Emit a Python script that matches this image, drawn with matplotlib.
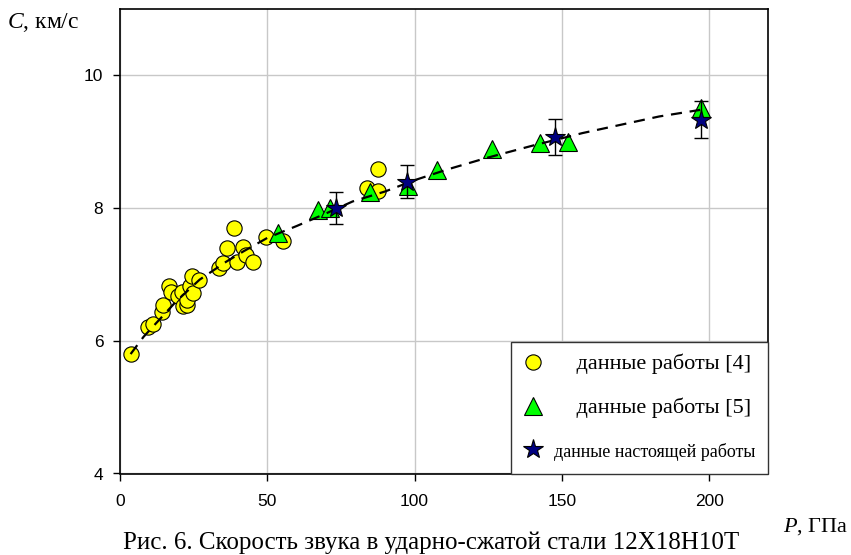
import matplotlib
matplotlib.use("Agg")
import matplotlib.pyplot as plt

plt.rcParams["mathtext.fontset"] = "custom"
plt.rcParams["mathtext.it"] = "Liberation Serif:italic"
plt.rcParams["mathtext.rm"] = "Liberation Serif"

# ---- data ----
p4 = [3.6, 9.6, 11.1, 14.1, 14.7, 16.7, 17.2, 19.6, 20.9, 21.3, 22.6, 22.8, 23.8,
      24.3, 24.9, 26.9, 33.6, 35.1, 36.4, 38.8, 39.6, 41.6, 42.9, 45.2, 49.7, 55.2,
      83.9, 87.6, 87.6]
c4 = [5.80, 6.21, 6.25, 6.44, 6.54, 6.82, 6.74, 6.67, 6.74, 6.52, 6.54, 6.62, 6.82,
      6.97, 6.72, 6.92, 7.10, 7.17, 7.40, 7.70, 7.19, 7.42, 7.30, 7.19, 7.57, 7.50,
      8.30, 8.25, 8.59]

p5 = [53.7, 67.3, 71.3, 84.8, 97.8, 107.5, 126.3, 142.5, 152.1, 197.4]
c5 = [7.62, 7.97, 8.00, 8.24, 8.33, 8.58, 8.89, 8.98, 9.00, 9.51]

p_this = [73.5, 97.3, 147.6, 197.4]
c_this = [8.00, 8.40, 9.07, 9.33]
c_err = [0.24, 0.25, 0.27, 0.28]

fit_p = [3.6, 8, 19, 27, 36, 42, 50, 60, 70, 79, 90, 100, 111, 124, 140, 157, 183, 197]
fit_c = [5.80, 6.06, 6.59, 6.92, 7.19, 7.35, 7.55, 7.73, 7.92, 8.10, 8.25, 8.42,
         8.58, 8.75, 8.94, 9.13, 9.38, 9.48]

labels = ["    данные работы [4]", "    данные работы [5]", "данные настоящей работы"]
xticks = [0, 50, 100, 150, 200]
yticks = [4, 6, 8, 10]

SERIF = ["Liberation Serif", "DejaVu Serif"]
SANS = ["Liberation Sans", "DejaVu Sans"]

fig = plt.figure(figsize=(8.51, 5.55), dpi=100)
ax = fig.add_axes([120 / 851, 1 - 473.5 / 555, (768 - 120) / 851, (473.5 - 9) / 555])

ax.set_xlim(0, 220)
ax.set_ylim(4, 11)
ax.set_xticks(xticks)
ax.set_yticks(yticks)
ax.grid(True, color="#c8c8c8", lw=1.0, zorder=0)
ax.set_axisbelow(True)

for s in ax.spines.values():
    s.set_linewidth(1.2)
    s.set_color("black")

ax.tick_params(axis="both", direction="out", length=5, width=1.0,
               top=False, right=False, labelsize=12.5)
ax.tick_params(axis="y", pad=7)
ax.tick_params(axis="x", pad=10)
for lab in ax.get_xticklabels() + ax.get_yticklabels():
    lab.set_fontfamily(SANS)

h1, = ax.plot(p4, c4, "o", ms=11, mfc="#ffff00", mec="black", mew=0.8,
              ls="none", zorder=3, label=labels[0])
h2, = ax.plot(p5, c5, "^", ms=13, mfc="#00ff00", mec="black", mew=0.8,
              ls="none", zorder=4, label=labels[1])
ax.plot(fit_p, fit_c, color="black", lw=1.6, ls=(0, (5, 3.5)), zorder=5)
ax.errorbar(p_this, c_this, yerr=c_err, fmt="none", ecolor="black",
            elinewidth=1.0, capsize=5, capthick=1.0, zorder=6)
h3, = ax.plot(p_this, c_this, "*", ms=15, mfc="#000080", mec="black", mew=0.8,
              ls="none", zorder=7, label=labels[2])

leg = ax.legend(handles=[h1, h2, h3], loc="lower right", bbox_to_anchor=(1.0, 0.0),
                borderaxespad=0, fancybox=False, framealpha=1, edgecolor="#333333",
                prop={"family": SERIF, "size": 16}, labelspacing=1.05,
                handletextpad=0.55, borderpad=0.55, handlelength=0.85)
leg.get_frame().set_linewidth(1.0)
leg.get_texts()[2].set_fontsize(13)
leg.set_zorder(10)

fig.text(7 / 851, 1 - 22 / 555, "$C$, км/с", fontfamily=SERIF, fontsize=17,
         ha="left", va="center")
fig.text(783 / 851, 1 - 527 / 555, "$P$, ГПа", fontfamily=SERIF, fontsize=16,
         ha="left", va="center")
fig.text(431 / 851, 1 - 543 / 555,
         "Рис. 6. Скорость звука в ударно-сжатой стали 12Х18Н10Т",
         fontfamily=SERIF, fontsize=18, ha="center", va="center")

fig.savefig("out.png", dpi=100)
